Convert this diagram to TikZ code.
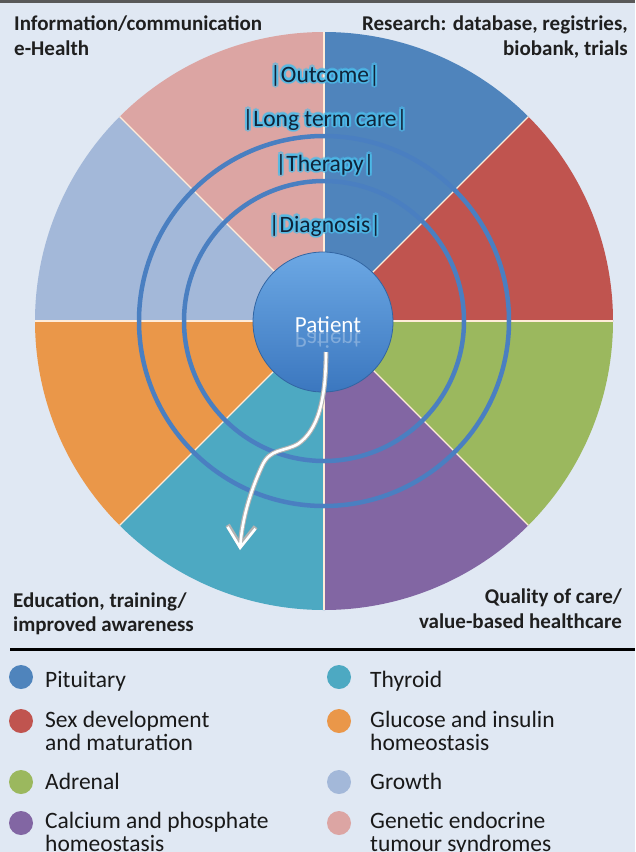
\documentclass[tikz,border=0pt]{standalone}
\usepackage{fontspec}
\setmainfont{Carlito}
\usetikzlibrary{arrows.meta}

\definecolor{bgc}{HTML}{E0E8F3}
\definecolor{pitc}{HTML}{4F84BC}
\definecolor{sexc}{HTML}{C0544F}
\definecolor{adrc}{HTML}{9BB85E}
\definecolor{calc}{HTML}{8266A3}
\definecolor{thyc}{HTML}{4DA9C2}
\definecolor{gluc}{HTML}{EA9749}
\definecolor{groc}{HTML}{A3B8D9}
\definecolor{genc}{HTML}{DCA5A3}
\definecolor{ringc}{HTML}{4A7FC1}
\definecolor{glowc}{HTML}{4CBDEB}
\definecolor{labc}{HTML}{10243A}
\definecolor{patlight}{HTML}{6CA8E4}
\definecolor{patdark}{HTML}{3B77BF}

\tikzset{
  sepline/.style={draw=white!85!orange, line width=1.3pt},
  ring/.style={draw=ringc, line width=4.5pt},
  ringtxt/.style={font=\fontsize{23.5}{23.5}\selectfont, text=labc, inner sep=0pt, anchor=base},
  ringglow/.style={ringtxt, text=glowc, opacity=.5},
  corner/.style={font=\bfseries\fontsize{21}{25}\selectfont, text=black!88, inner sep=0pt},
  legdot/.style={circle, minimum size=24pt, inner sep=0pt},
  legtxt/.style={font=\fontsize{23.5}{23.5}\selectfont, text=black!90, inner sep=0pt, anchor=base west},
  patient/.style={circle, minimum size=140pt, inner sep=0pt, top color=patlight, bottom color=patdark, draw=patdark!85!black, line width=.8pt},
  pattxt/.style={font=\fontsize{23}{23}\selectfont, text=white, anchor=base, inner sep=0pt},
  tubeout/.style={draw=gray!60, line width=4.8pt, -{Straight Barb[length=20pt,width=28pt]}},
  tubein/.style={draw=white, line width=2.6pt, -{Straight Barb[length=20pt,width=28pt]}},
}

\newcommand{\ringlabel}[3]{%
  \foreach \a in {0,30,...,330}
    \node[ringglow] at ([shift={(\a:2.2)}]325,#2) {#3};
  \node[ringtxt] (#1) at (325,#2) {#3};
}

\begin{document}
\begin{tikzpicture}[x=1pt, y=1pt]
\useasboundingbox (0,0) rectangle (635,-852);
\fill[bgc] (0,0) rectangle (635,-852);
\fill[black!65] (0,0) rectangle (635,-2.5);

% pie
\coordinate (pie) at (324,-321);
\foreach \a/\c in {90/pitc, 45/sexc, 0/adrc, -45/calc, -90/thyc, -135/gluc, 180/groc, 135/genc}
  \fill[\c] (pie) -- ++(\a:289) arc (\a:\a-45:289) -- cycle;
\foreach \a in {0,45,...,315}
  \draw[sepline] (pie) -- ++(\a:289);

% rings
\draw[ring] (pie) circle (140);
\draw[ring] (pie) circle (185);

\ringlabel{outcome}{-82}{|Outcome|}
\ringlabel{longterm}{-126}{|Long term care|}
\ringlabel{therapy}{-171}{|Therapy|}
\ringlabel{diagnosis}{-232}{|Diagnosis|}

% patient
\node[patient] (patient) at (323,-322) {};
\node[pattxt] (patienttxt) at (328,-332) {Patient};
\node[pattxt, opacity=.3] (patientrefl) at (328,-332) {\scalebox{1}[-1]{Patient}};

\coordinate (arrowstart) at (326,-352);
\coordinate (arrowend) at (240,-550);
\draw[tubeout] (arrowstart) .. controls (326,-400) and (318,-430) .. (298,-444) .. controls (284,-452) and (270,-448) .. (262,-466) .. controls (250,-492) and (242,-520) .. (arrowend);
\draw[tubein] (arrowstart) .. controls (326,-400) and (318,-430) .. (298,-444) .. controls (284,-452) and (270,-448) .. (262,-466) .. controls (250,-492) and (242,-520) .. (arrowend);

% corner texts
\node[corner, anchor=base west] (info1) at (14,-30) {Information/communication};
\node[corner, anchor=base west] (info2) at (14,-55) {e-Health};
\node[corner, anchor=base east] (res1) at (628,-30) {Research: database, registries,};
\node[corner, anchor=base east] (res2) at (628,-55) {biobank, trials};
\node[corner, anchor=base west] (edu1) at (13,-607) {Education, training/};
\node[corner, anchor=base west] (edu2) at (13,-631) {improved awareness};
\node[corner, anchor=base east] (qual1) at (622,-603) {Quality of care/};
\node[corner, anchor=base east] (qual2) at (622,-628) {value-based healthcare};

\draw[black, line width=3pt] (10,-649) -- (635,-649);

% legend
\node[legdot, fill=pitc] (dotpit) at (21,-677) {};
\node[legtxt] (txtpit) at (45,-687) {Pituitary};
\node[legdot, fill=sexc] (dotsex) at (21,-721) {};
\node[legtxt] (txtsex) at (45,-727) {Sex development};
\node[legtxt] (txtsexb) at (45,-750) {and maturation};
\node[legdot, fill=adrc] (dotadr) at (21,-782) {};
\node[legtxt] (txtadr) at (45,-789) {Adrenal};
\node[legdot, fill=calc] (dotcal) at (21,-823) {};
\node[legtxt] (txtcal) at (45,-828) {Calcium and phosphate};
\node[legtxt] (txtcalb) at (45,-851) {homeostasis};

\node[legdot, fill=thyc] (dotthy) at (339,-677) {};
\node[legtxt] (txtthy) at (370,-687) {Thyroid};
\node[legdot, fill=gluc] (dotglu) at (339,-721) {};
\node[legtxt] (txtglu) at (370,-727) {Glucose and insulin};
\node[legtxt] (txtglub) at (370,-750) {homeostasis};
\node[legdot, fill=groc] (dotgro) at (339,-782) {};
\node[legtxt] (txtgro) at (370,-789) {Growth};
\node[legdot, fill=genc] (dotgen) at (339,-823) {};
\node[legtxt] (txtgen) at (370,-828) {Genetic endocrine};
\node[legtxt] (txtgenb) at (370,-851) {tumour syndromes};
\end{tikzpicture}
\end{document}
